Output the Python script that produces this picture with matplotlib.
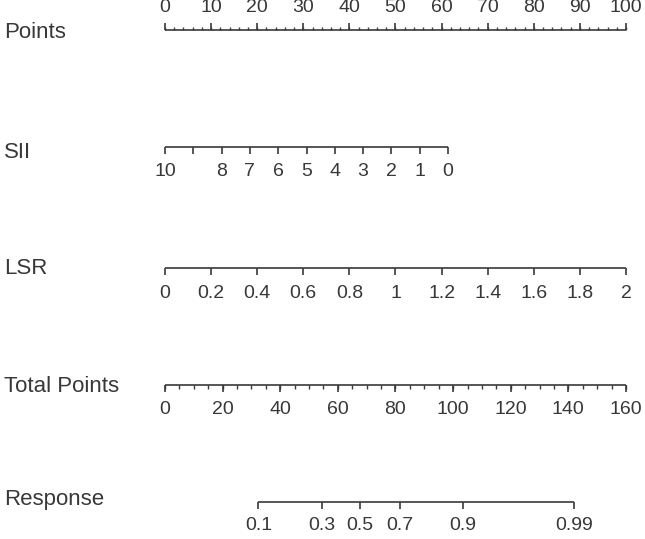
"""Nomogram: SII and LSR -> Response."""

import numpy as np
import matplotlib.pyplot as plt

plt.rcParams["font.family"] = ["Liberation Sans", "DejaVu Sans"]

# ---- values ----
points_major = np.arange(0, 101, 10)
points_minor = np.arange(0, 101, 2)

sii_values = np.arange(10, -1, -1)
sii_labels = ["10", "", "8", "7", "6", "5", "4", "3", "2", "1", "0"]
sii_points_at_zero = 61.4      # points given for SII = 0 (SII = 10 -> 0 points)

lsr_values = np.round(np.arange(0, 2.01, 0.2), 1)
lsr_labels = ["0", "0.2", "0.4", "0.6", "0.8", "1", "1.2", "1.4", "1.6", "1.8", "2"]
lsr_points_at_max = 100.0      # points for LSR = 2

total_max = 160
total_major = np.arange(0, 161, 20)
total_minor = np.arange(0, 161, 5)

response_labels = ["0.1", "0.3", "0.5", "0.7", "0.9", "0.99"]
response_total_points = [32.4, 54.4, 67.7, 81.6, 103.3, 142.1]

# ---- layout (pixels of a 645x539 canvas) ----
W, H = 645, 539
X0, PX_PER_PT = 165, 4.61
LINE = "#3a3a3a"
TXT = "#383838"
MAJ, MIN = 7, 3.5

fig = plt.figure(figsize=(W / 100, H / 100), dpi=100)
ax = fig.add_axes([0, 0, 1, 1])
ax.set_xlim(-X0 / PX_PER_PT, (W - X0) / PX_PER_PT)
ax.set_ylim(H, 0)
ax.axis("off")


def scale(x, y, major, labels, minor=None, up=False, label_dy=22, fs=14):
    major = np.asarray(major, dtype=float)
    sign = -1 if up else 1
    ax.plot([major.min(), major.max()], [y, y], color=LINE, lw=1.2,
            solid_capstyle="butt")
    ax.vlines(major, y, y + sign * MAJ, color=LINE, lw=1.2)
    if minor is not None:
        ax.vlines(minor, y, y + sign * MIN, color=LINE, lw=1.0)
    for xv, lab in zip(major, labels):
        ax.text(xv, y + sign * label_dy, lab, ha="center", va="center",
                fontsize=fs, color=TXT)


def row_label(text, y):
    ax.text(-X0 / PX_PER_PT + 4 / PX_PER_PT, y, text, ha="left", va="center",
            fontsize=16, color=TXT)


# Points
scale(0, 30, points_major, [str(v) for v in points_major], minor=points_minor,
      up=True, label_dy=23)
row_label("Points", 33)

# SII
sii_pts = (10 - sii_values) / 10 * sii_points_at_zero
scale(0, 147, sii_pts, sii_labels, label_dy=25)
row_label("SII", 153)

# LSR
lsr_pts = lsr_values / 2 * lsr_points_at_max
scale(0, 268, lsr_pts, lsr_labels, label_dy=25)
row_label("LSR", 268)

# Total Points
tp = lambda v: np.asarray(v, dtype=float) * 100 / total_max
scale(0, 385, tp(total_major), [str(v) for v in total_major],
      minor=tp(total_minor), label_dy=25)
row_label("Total Points", 387)

# Response
scale(0, 502, tp(response_total_points), response_labels, label_dy=23)
row_label("Response", 500)

fig.savefig("out.png", dpi=100, facecolor="white")
